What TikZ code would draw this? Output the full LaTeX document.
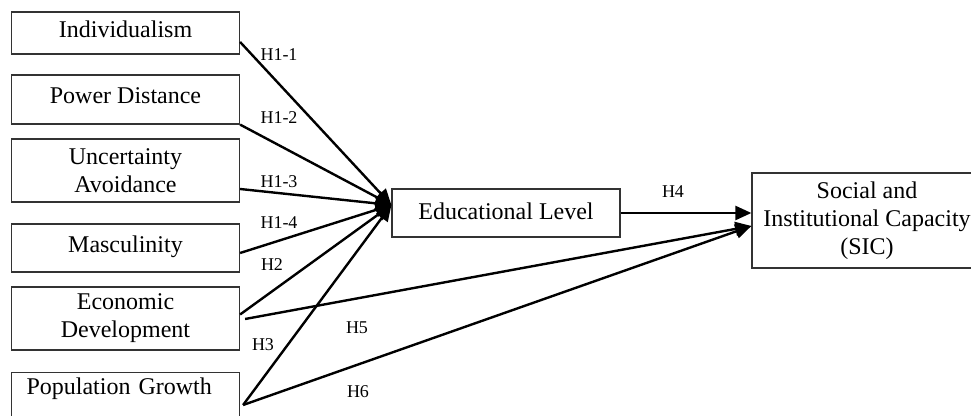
\documentclass[tikz,border=0pt]{standalone}
\usepackage{fontspec}
\setmainfont{Liberation Serif}
\usetikzlibrary{arrows.meta,calc}
\definecolor{boxline}{HTML}{333333}
\tikzset{
  factor/.style={draw=boxline, line width=0.6pt, align=center, minimum width=114pt, inner sep=2pt, font=\fontsize{12}{14}\selectfont},
  oneline/.style={text depth=4pt},
  hyp/.style={inner sep=0pt, font=\fontsize{9}{10}\selectfont},
  arrow/.style={-{Triangle[length=8pt,width=7pt]}, line width=1.2pt, draw=black}
}

\begin{document}
\begin{tikzpicture}[x=0.5pt, y=-0.5pt]
  \clip (0,0) rectangle (971,416);
  \node[factor, oneline, minimum height=21pt] (ind) at (125.5,33) {Individualism};
  \node[factor, oneline, minimum height=24.5pt] (pow) at (125.5,99.5) {Power Distance};
  \node[factor, minimum height=31.5pt] (unc) at (125.5,170.5) {Uncertainty\\Avoidance};
  \node[factor, oneline, minimum height=24pt] (mas) at (125.5,248) {Masculinity};
  \node[factor, minimum height=31.5pt] (eco) at (125.5,318.5) {Economic\\Development};
  \node[factor, anchor=north, align=left, text width=99pt, inner xsep=7.5pt, text height=9pt, text depth=28pt] (pop) at (125.5,372) {Population Growth};
  \node[factor, text depth=2pt, minimum height=24pt] (edu) at (506,213) {Educational Level};
  \node[factor, minimum width=115pt, minimum height=47.5pt] (sic) at (867,220.5) {Social and\\Institutional Capacity\\(SIC)};

  \coordinate (eduin) at ($(edu.west)+(0,-8)$);
  \coordinate (sicin) at ($(sic.west)+(0,5.5)$);

  \draw[arrow] ($(ind.east)+(0,9)$) -- (eduin);
  \draw[arrow] (pow.south east) -- (eduin);
  \draw[arrow] ($(unc.east)+(0,18.5)$) -- (eduin);
  \draw[arrow] ($(mas.east)+(0,5)$) -- (eduin);
  \draw[arrow] ($(eco.east)+(0,-4)$) -- (eduin);
  \draw[arrow] ($(pop.north east)+(3,33)$) -- (eduin);
  \draw[arrow] (edu.east) -- (edu.east -| sic.west);
  \draw[arrow] ($(eco.east)+(5,0.5)$) -- (sicin);
  \draw[arrow] ($(pop.north east)+(3,33)$) -- (sicin);

  \node[hyp] (h11) at (279,55) {H1-1};
  \node[hyp] (h12) at (279,118) {H1-2};
  \node[hyp] (h13) at (279,182) {H1-3};
  \node[hyp] (h14) at (279,223) {H1-4};
  \node[hyp] (h2) at (272,265) {H2};
  \node[hyp] (h3) at (263,345) {H3};
  \node[hyp] (h4) at (673,192) {H4};
  \node[hyp] (h5) at (357,328) {H5};
  \node[hyp] (h6) at (358,392) {H6};
\end{tikzpicture}
\end{document}
